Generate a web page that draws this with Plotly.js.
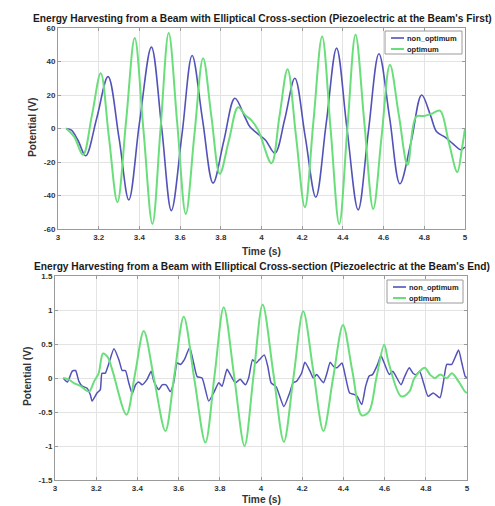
<!DOCTYPE html>
<html><head><meta charset="utf-8">
<script src="https://cdn.plot.ly/plotly-3.0.1.min.js"></script>
<style>html,body{margin:0;padding:0;background:#fff}#chart{width:495px;height:506px}</style>
</head><body><div id="chart"></div>
<script>
// ---- Top panel (Piezoelectric at the Beam's First) ----
const topNonT = [3.04,3.066,3.098,3.136,3.19,3.246,3.30,3.348,3.40,3.459,3.51,3.557,3.61,3.659,3.71,3.762,3.815,3.869,3.918,3.943,3.98,4.02,4.066,4.115,4.164,4.215,4.267,4.318,4.369,4.42,4.475,4.525,4.577,4.63,4.68,4.735,4.787,4.83,4.861,4.90,4.94,4.98,5.0];
const topNonV = [0,-1,-7,-16.3,6,31,-5.8,-42.6,3,48.6,-0.2,-49,-2.7,43.6,5.5,-32.6,-7.3,18.1,7,1,-3,-7,-14.7,6,30,-5,-41,3,48,0,-48.6,-2,44.6,6,-33,-8,20,8,-2,-5,-9,-12.7,-11];
const topOptT = [3.04,3.08,3.123,3.167,3.21,3.25,3.292,3.335,3.377,3.42,3.464,3.504,3.544,3.586,3.628,3.67,3.713,3.754,3.795,3.84,3.885,3.92,3.95,3.984,4.049,4.088,4.128,4.17,4.213,4.255,4.298,4.34,4.382,4.422,4.462,4.505,4.549,4.59,4.631,4.675,4.718,4.76,4.80,4.84,4.877,4.92,4.962,4.985,5.0];
const topOptV = [0,-5,-15.7,8,33,-5,-44,5,54,-1,-57,0,57,3,-51,-4,42,7,-27,-7,12.7,8,5,-1,-20.7,7,35.4,-5,-47,4,55,-1,-57,0,56,4,-48,-5,38,8,-21.7,7,7.5,9,10.7,-8,-26,-12,0];

// ---- Bottom panel (Piezoelectric at the Beam's End) ----
const botNonT = [3.04,3.06,3.084,3.10,3.116,3.132,3.156,3.172,3.18,3.204,3.22,3.228,3.244,3.26,3.286,3.31,3.326,3.342,3.358,3.375,3.391,3.407,3.423,3.447,3.467,3.48,3.504,3.52,3.539,3.56,3.576,3.593,3.609,3.628,3.654,3.673,3.69,3.714,3.746,3.77,3.795,3.811,3.835,3.851,3.875,3.899,3.924,3.94,3.959,3.976,3.992,4.016,4.033,4.049,4.074,4.111,4.139,4.156,4.172,4.197,4.213,4.238,4.254,4.27,4.303,4.32,4.336,4.352,4.369,4.393,4.41,4.43,4.451,4.467,4.489,4.508,4.525,4.541,4.566,4.582,4.598,4.623,4.64,4.656,4.68,4.697,4.72,4.738,4.754,4.77,4.787,4.811,4.836,4.869,4.885,4.902,4.926,4.959,4.975,4.992,5.0];
const botNonV = [0,-0.06,0.1,0.11,-0.05,-0.12,-0.15,-0.25,-0.34,-0.22,-0.17,0.07,0.07,0.2,0.43,0.27,0.11,0.11,-0.07,-0.23,-0.1,-0.06,-0.1,-0.02,0.1,-0.05,-0.17,-0.1,-0.1,-0.2,-0.07,0.22,0.2,0.27,0.45,0.22,0.02,0,-0.34,-0.22,-0.07,-0.12,0.13,0.05,-0.07,-0.02,-0.1,0,0.27,0.22,0.27,0.34,0.17,-0.07,-0.13,-0.42,-0.22,-0.07,-0.05,0.07,0.23,0.1,0,0.05,-0.07,0.07,0.23,0.17,0.15,0.22,0.02,-0.22,-0.24,-0.27,-0.39,-0.12,0.03,0.05,0.2,0.33,0.22,0.05,0.1,0.02,-0.1,0.02,0.15,0.07,0.05,0.1,-0.05,-0.27,-0.22,-0.29,-0.07,0.2,0.2,0.41,0.22,0.02,0.01];
const botOptT = [3.04,3.066,3.09,3.125,3.165,3.19,3.212,3.233,3.255,3.278,3.347,3.389,3.431,3.483,3.536,3.58,3.625,3.677,3.73,3.775,3.819,3.87,3.92,3.964,4.008,4.06,4.111,4.158,4.205,4.254,4.303,4.35,4.398,4.443,4.489,4.525,4.56,4.598,4.62,4.68,4.72,4.745,4.795,4.82,4.845,4.87,4.902,4.926,4.959,4.99,5.0];
const botOptV = [0,-0.02,-0.07,-0.12,-0.2,-0.05,0.07,0.36,0.31,0.12,-0.54,0.07,0.69,-0.05,-0.78,0.06,0.9,-0.03,-0.95,0.05,1.04,0.02,-1.0,0.04,1.08,0.07,-0.94,0.02,0.98,0.1,-0.78,0,0.78,0.11,-0.55,-0.49,0,0.49,0.22,-0.27,-0.2,0,0.15,0.05,0,0.05,0,0.07,-0.05,-0.2,-0.22];

const xTicks = [3,3.2,3.4,3.6,3.8,4,4.2,4.4,4.6,4.8,5];
const xTickText = ["3","3.2","3.4","3.6","3.8","4","4.2","4.4","4.6","4.8","5"];
const yTopTicks = [-60,-40,-20,0,20,40,60];
const yTopText = ["-60","-40","-20","0","20","40","60"];
const yBotTicks = [-1.5,-1,-0.5,0,0.5,1,1.5];
const yBotText = ["-1.5","-1","-0.5","0","0.5","1","1.5"];
const seriesNames = ["non_optimum","optimum"];
const titles = ["Energy Harvesting from a Beam with Elliptical Cross-section (Piezoelectric at the Beam's First)",
                "Energy Harvesting from a Beam with Elliptical Cross-section (Piezoelectric at the Beam's End)"];

const BLUE = '#5252b8', GREEN = '#6ade7a';
const FONT = 'Liberation Sans, Arial, sans-serif';

const traces = [
  {x: topNonT, y: topNonV, xaxis:'x', yaxis:'y', mode:'lines', line:{color:BLUE,width:1.6,shape:'spline',smoothing:1}, name:seriesNames[0]},
  {x: topOptT, y: topOptV, xaxis:'x', yaxis:'y', mode:'lines', line:{color:GREEN,width:2,shape:'spline',smoothing:1}, name:seriesNames[1]},
  {x: botNonT, y: botNonV, xaxis:'x2', yaxis:'y2', mode:'lines', line:{color:BLUE,width:1.5,shape:'spline',smoothing:0.5}, name:seriesNames[0]},
  {x: botOptT, y: botOptV, xaxis:'x2', yaxis:'y2', mode:'lines', line:{color:GREEN,width:2,shape:'spline',smoothing:0.9}, name:seriesNames[1]}
];

const axBase = {
  showgrid:true, gridcolor:'#e3e3e3', gridwidth:1, zeroline:false,
  showline:true, linecolor:'#9a9a9a', linewidth:1, mirror:'ticks',
  ticks:'inside', ticklen:3, tickcolor:'#9a9a9a',
  tickfont:{family:FONT,size:8,color:'#333',weight:'bold'}, tickmode:'array'
};

const W = 495, H = 506;
const px = v => v / W, py = v => 1 - v / H;

const layout = {
  width: W, height: H, showlegend:false,
  margin:{l:0,r:0,t:0,b:0}, paper_bgcolor:'#fff', plot_bgcolor:'#fff',
  xaxis: Object.assign({}, axBase, {domain:[px(58),px(465)], range:[3,5], tickvals:xTicks, ticktext:xTickText, anchor:'y'}),
  yaxis: Object.assign({}, axBase, {domain:[py(229),py(28)], range:[-60,60], tickvals:yTopTicks, ticktext:yTopText, anchor:'x'}),
  xaxis2: Object.assign({}, axBase, {domain:[px(55),px(467)], range:[3,5], tickvals:xTicks, ticktext:xTickText, anchor:'y2'}),
  yaxis2: Object.assign({}, axBase, {domain:[py(480),py(276)], range:[-1.5,1.5], tickvals:yBotTicks, ticktext:yBotText, anchor:'x2'}),
  annotations: [],
  shapes: []
};

const titleFont = {family:FONT,size:10.2,color:'#1a1a1a',weight:'bold'};
const labFont = {family:FONT,size:10.2,color:'#333',weight:'bold'};
const A = layout.annotations, S = layout.shapes;
A.push({text:titles[0], xref:'paper', yref:'paper', x:px(262), y:py(18), showarrow:false, font:titleFont, xanchor:'center', yanchor:'middle'});
A.push({text:titles[1], xref:'paper', yref:'paper', x:px(262), y:py(266), showarrow:false, font:titleFont, xanchor:'center', yanchor:'middle'});
A.push({text:'Time (s)', xref:'paper', yref:'paper', x:px(261), y:py(251), showarrow:false, font:labFont, xanchor:'center', yanchor:'middle'});
A.push({text:'Time (s)', xref:'paper', yref:'paper', x:px(261), y:py(499), showarrow:false, font:labFont, xanchor:'center', yanchor:'middle'});
A.push({text:'Potential (V)', xref:'paper', yref:'paper', x:px(33), y:py(128), showarrow:false, font:labFont, textangle:-90, xanchor:'center', yanchor:'middle'});
A.push({text:'Potential (V)', xref:'paper', yref:'paper', x:px(27), y:py(377), showarrow:false, font:labFont, textangle:-90, xanchor:'center', yanchor:'middle'});

// custom legends
const legendBoxes = [{x0:385,x1:462,y0:31,y1:54,r1:38,r2:49},{x0:387,x1:463,y0:280,y1:303,r1:287,r2:298}];
const legFont = {family:FONT,size:7.5,color:'#222',weight:'bold'};
legendBoxes.forEach(b => {
  S.push({type:'rect', xref:'paper', yref:'paper', x0:px(b.x0), x1:px(b.x1), y0:py(b.y1), y1:py(b.y0), line:{color:'#9a9a9a',width:1}, fillcolor:'#fff', layer:'above'});
  S.push({type:'line', xref:'paper', yref:'paper', x0:px(b.x0+6), x1:px(b.x0+19), y0:py(b.r1), y1:py(b.r1), line:{color:BLUE,width:1.6}, layer:'above'});
  S.push({type:'line', xref:'paper', yref:'paper', x0:px(b.x0+6), x1:px(b.x0+19), y0:py(b.r2), y1:py(b.r2), line:{color:GREEN,width:2}, layer:'above'});
  A.push({text:seriesNames[0], xref:'paper', yref:'paper', x:px(b.x0+20), y:py(b.r1), showarrow:false, font:legFont, xanchor:'left', yanchor:'middle'});
  A.push({text:seriesNames[1], xref:'paper', yref:'paper', x:px(b.x0+20), y:py(b.r2), showarrow:false, font:legFont, xanchor:'left', yanchor:'middle'});
});

Plotly.newPlot('chart', traces, layout, {displayModeBar:false, staticPlot:true});
</script></body></html>
